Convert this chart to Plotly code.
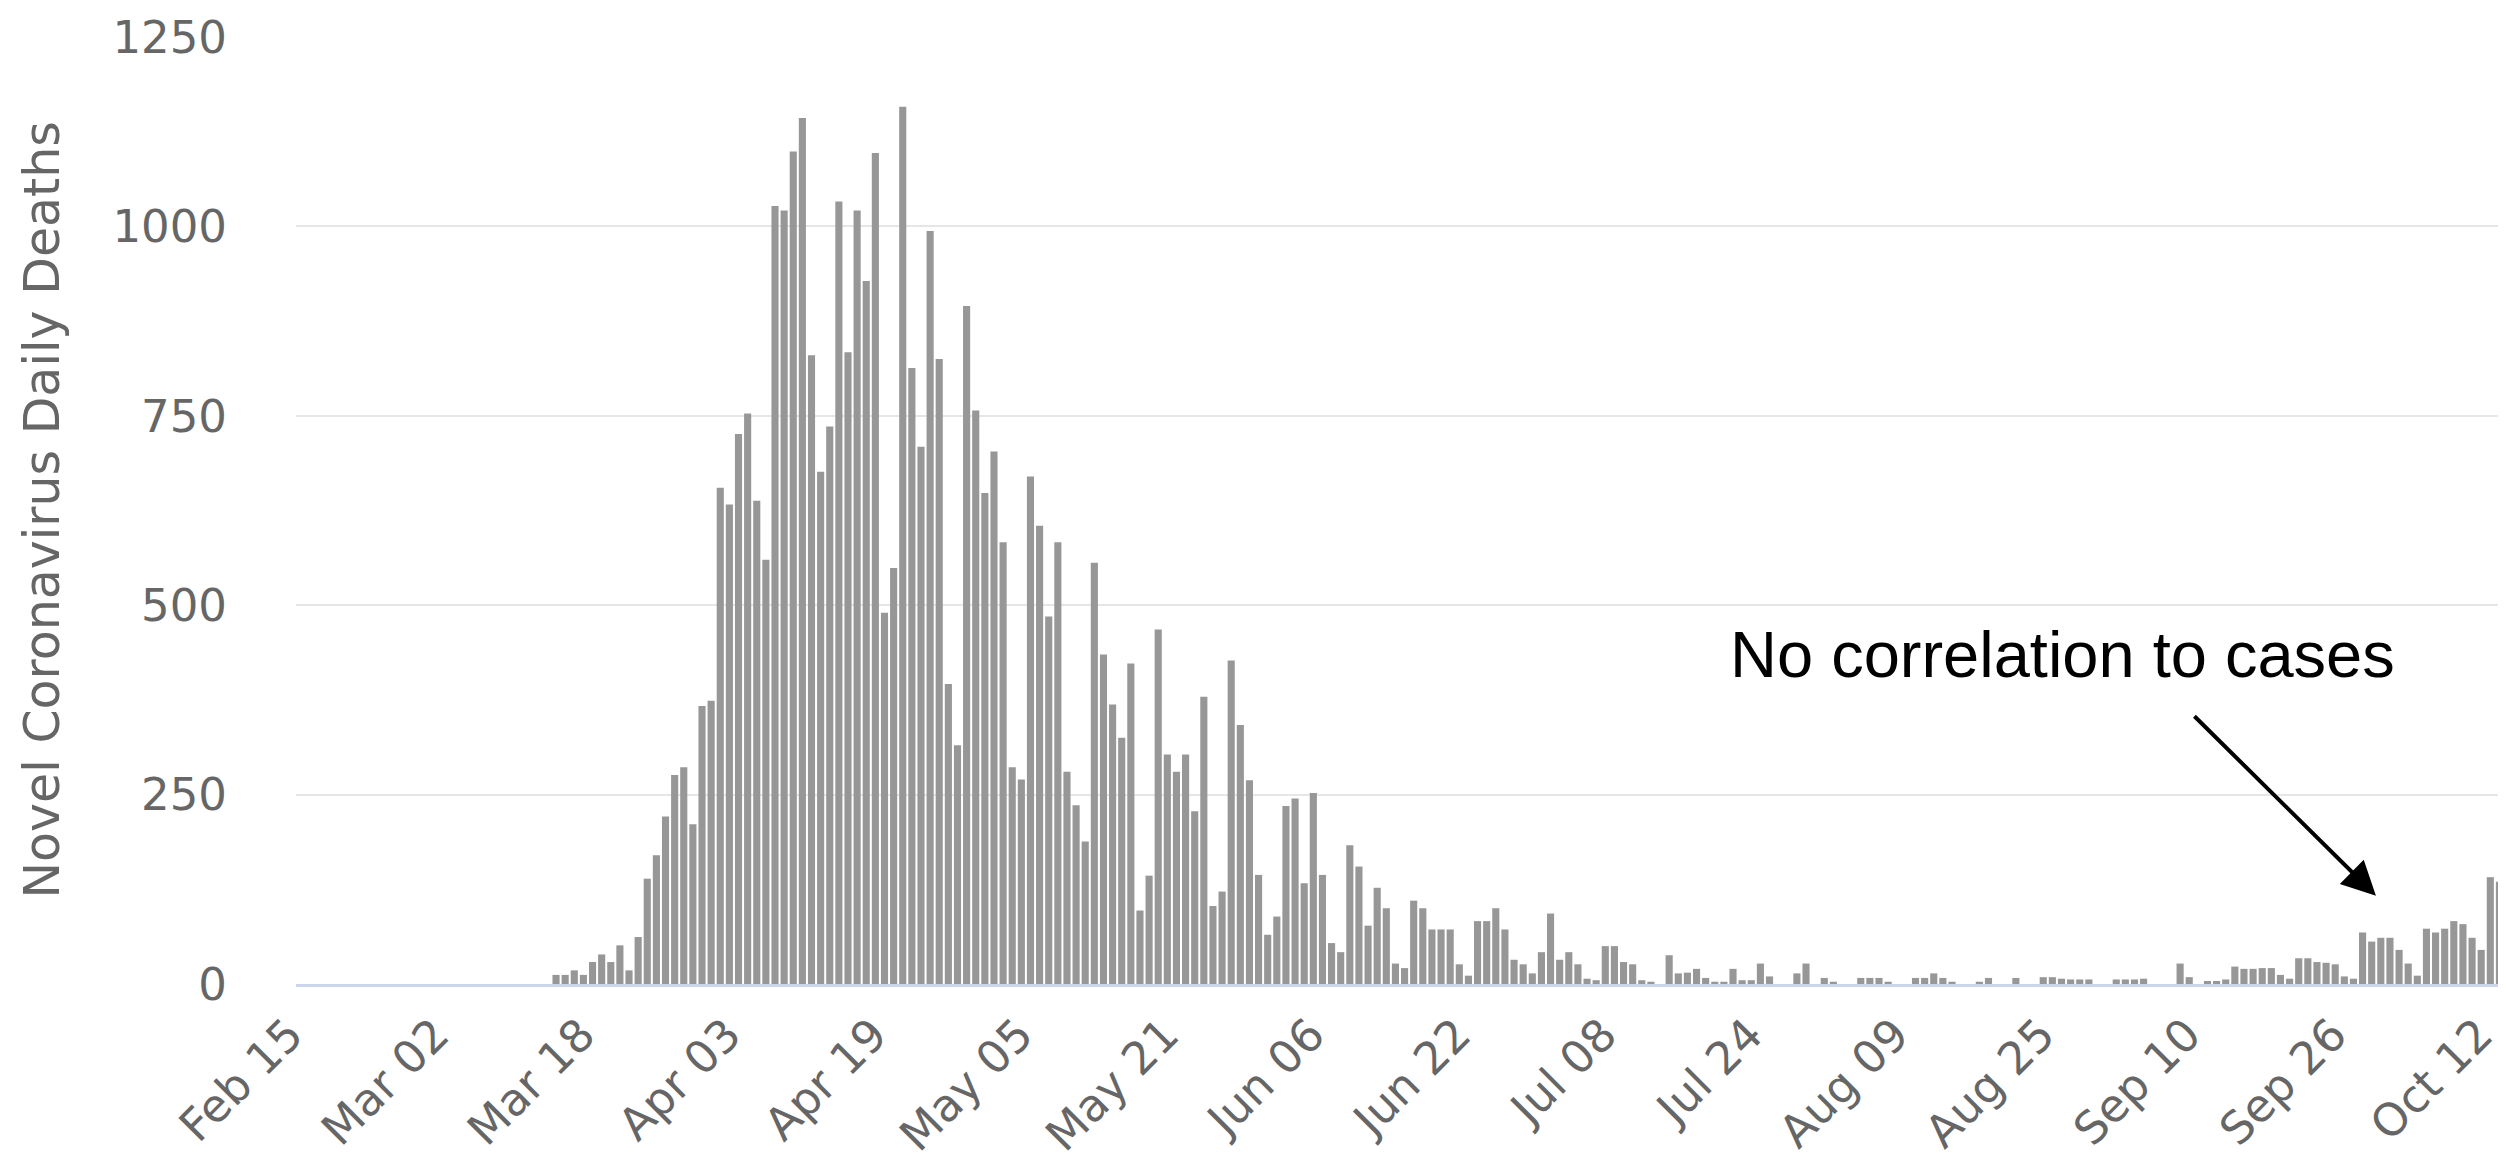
import pandas as pd
import plotly.graph_objects as go

# Daily deaths, Feb 15 2020 .. Oct 13 2020 (one list per month)
feb = [0] * 15
mar = [0] * 13 + [12, 12, 18, 12, 29, 39, 29, 51, 18, 62, 139, 170, 221, 276, 286, 211, 367, 374]
apr = [655, 633, 726, 753, 638, 560, 1027, 1021, 1099, 1143, 830, 676, 736, 1033, 834,
       1021, 928, 1097, 490, 549, 1158, 813, 709, 994, 825, 396, 315, 895, 757, 648]
may = [703, 583, 286, 270, 670, 605, 485, 583, 280, 236, 188, 556, 435, 369, 325, 423,
       97, 143, 468, 303, 280, 303, 228, 379, 103, 122, 427, 342, 269, 144, 65]
jun = [89, 235, 245, 133, 252, 144, 54, 42, 183, 155, 77, 127, 100, 27, 21, 110, 100,
       72, 72, 72, 26, 11, 83, 83, 100, 72, 32, 26, 14, 42]
jul = [93, 32, 42, 26, 7, 5, 50, 50, 29, 26, 5, 3, 0, 38, 14, 15, 20, 8, 3, 3, 20, 5,
       5, 27, 10, 0, 0, 14, 27, 0, 8]
aug = [3, 0, 0, 8, 8, 8, 3, 0, 0, 8, 8, 14, 8, 3, 0, 0, 3, 8, 0, 0, 8, 0, 0, 9, 9, 7,
       6, 6, 6, 0, 0]
sep = [6, 6, 6, 7, 0, 0, 0, 27, 9, 0, 4, 4, 6, 23, 20, 20, 21, 21, 12, 7, 34, 34, 29,
       28, 26, 10, 7, 68, 56, 61]
oct_ = [61, 45, 27, 11, 73, 68, 73, 83, 79, 61, 45, 141, 135]

deaths = feb + mar + apr + may + jun + jul + aug + sep + oct_
dates = [d.strftime("%b %d") for d in pd.date_range("2020-02-15", "2020-10-13", freq="D")]

tick_labels = ["Feb 15", "Mar 02", "Mar 18", "Apr 03", "Apr 19", "May 05", "May 21",
               "Jun 06", "Jun 22", "Jul 08", "Jul 24", "Aug 09", "Aug 25", "Sep 10",
               "Sep 26", "Oct 12"]
y_ticks = [0, 250, 500, 750, 1000, 1250]

YTICK_FONT = dict(family="DejaVu Sans", size=45, color="#666666")
XTICK_FONT = dict(family="DejaVu Sans", size=45, color="#666666")
TITLE_FONT = dict(family="DejaVu Sans", size=49, color="#666666")

fig = go.Figure()
fig.add_trace(go.Bar(x=dates, y=deaths, marker=dict(color="#979797", line=dict(width=0)),
                     showlegend=False))

fig.update_layout(
    width=2506, height=1160,
    margin=dict(l=288, r=10, t=29, b=184),
    paper_bgcolor="white", plot_bgcolor="white",
    bargap=0.22,
    xaxis=dict(
        type="category", categoryorder="array", categoryarray=dates,
        range=[-0.5, len(dates) - 0.5], automargin=False,
        tickmode="array", tickvals=tick_labels, ticktext=tick_labels,
        tickangle=-45, tickfont=XTICK_FONT, ticks="", showgrid=False,
        showline=True, linecolor="#ccd6eb", linewidth=3, zeroline=False,
        ticklabelstandoff=3, ticklabelshift=-11,
    ),
    yaxis=dict(
        range=[0, 1250], tickmode="array", tickvals=y_ticks, automargin=False,
        tickfont=YTICK_FONT, showgrid=True, gridcolor="#e6e6e6", gridwidth=2,
        zeroline=False, showline=False, ticks="", ticklabelstandoff=68,
    ),
    annotations=[
        dict(text="Novel Coronavirus Daily Deaths", xref="paper", yref="paper",
             x=-0.115, y=0.5, textangle=-90, showarrow=False,
             xanchor="center", yanchor="middle", font=TITLE_FONT),
        dict(text="No correlation to cases", xref="paper", yref="paper",
             x=0.8, y=0.348, showarrow=False, xanchor="center", yanchor="middle",
             font=dict(family="Liberation Sans", size=65, color="black")),
        dict(text="", xref="paper", yref="paper", x=0.942, y=0.0932,
             showarrow=True, arrowhead=2, arrowsize=1.7, arrowwidth=4,
             arrowcolor="black", ax=-183, ay=-181),
    ],
)

fig.write_html("out.html")
